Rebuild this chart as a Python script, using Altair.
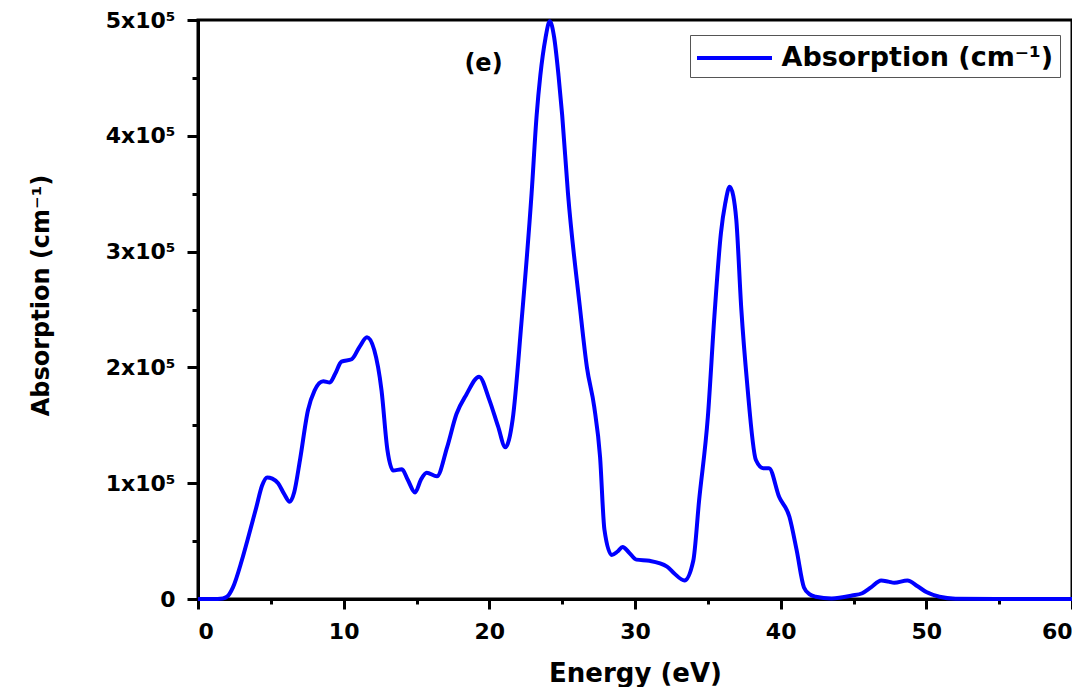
import altair as alt
import pandas as pd

# Photon energy (eV)
energy = [0, 1.0, 1.7, 2.0, 2.4, 3.0, 3.4, 4.0, 4.4, 4.75, 5.1, 5.5, 5.9, 6.3, 6.6,
          7.0, 7.55, 8.0, 8.6, 9.05, 9.4, 9.85, 10.55, 11.1, 11.6, 12.1, 12.6, 13.0,
          13.4, 14.0, 14.4, 14.9, 15.3, 15.7, 16.4, 17.1, 17.75, 18.4, 19.3, 20.0,
          20.6, 21.1, 21.6, 22.2, 22.9, 23.25, 23.5, 23.85, 24.15, 24.45, 24.75,
          25.0, 25.4, 26.2, 26.7, 27.2, 27.6, 27.9, 28.4, 28.8, 29.15, 29.6, 30.1,
          31.0, 32.2, 32.7, 33.4, 34.0, 34.4, 35.0, 35.45, 35.9, 36.2, 36.5, 36.75,
          36.95, 37.3, 37.7, 38.3, 38.8, 39.2, 39.9, 40.6, 41.1, 41.6, 42.0, 42.4,
          43.5, 44.9, 45.6, 46.2, 46.9, 47.4, 47.8, 48.7, 49.4, 50.0, 50.9, 52.0,
          55.0, 60.0]
# Absorption coefficient (cm^-1)
absorption = [0, 0, 500, 2000, 10000, 33000, 51000, 79000, 98000, 105000, 104000,
              100000, 91000, 84000, 92000, 120000, 163000, 180000, 188000, 187000,
              194000, 205000, 207000, 218000, 226000, 215000, 180000, 129000, 111000,
              112000, 103000, 92000, 103000, 109000, 106000, 131000, 160000, 176000,
              192000, 172000, 149000, 131000, 155000, 238000, 350000, 418000, 452000,
              484000, 499000, 485000, 452000, 418000, 350000, 254000, 200000, 166000,
              123000, 60000, 38000, 41000, 45000, 40000, 34000, 33000, 28000, 22000,
              16000, 33000, 85000, 157000, 244000, 316000, 342000, 356000, 348000,
              328000, 250000, 186000, 120000, 113000, 113000, 88000, 71000, 42000,
              10000, 4000, 2000, 500, 3000, 5000, 10000, 16000, 15000, 14000, 16000,
              11000, 6000, 2000, 300, 0, 0]

series_name = "Absorption (cm\u207b\u00b9)"

x_major = [0, 10, 20, 30, 40, 50, 60]
x_minor = [5, 15, 25, 35, 45, 55]
y_major = [0, 100000, 200000, 300000, 400000, 500000]
y_minor = [50000, 150000, 250000, 350000, 450000]

panel_label = ["(e)"]
panel_x = [19.6]
panel_y = [462000]

df = pd.DataFrame({"energy": energy, "absorption": absorption,
                   "series": [series_name] * len(energy)})
ann = pd.DataFrame({"x": panel_x, "y": panel_y, "label": panel_label})

FONT = "DejaVu Sans"
xscale = alt.Scale(domain=[0, 60], nice=False, zero=False)
yscale = alt.Scale(domain=[0, 500000], nice=False)

line = alt.Chart(df).mark_line(strokeWidth=4, interpolate="monotone").encode(
    x=alt.X("energy:Q", scale=xscale,
            axis=alt.Axis(values=x_major, orient="bottom", title="Energy (eV)",
                          tickSize=10, labelPadding=12, titlePadding=18,
                          labelFontSize=22, titleFontSize=26, grid=False)),
    y=alt.Y("absorption:Q", scale=yscale,
            axis=alt.Axis(values=y_major, orient="left", title=series_name,
                          labelExpr="datum.value == 0 ? '0' : format(datum.value/100000, 'd') + 'x10\u2075'",
                          tickSize=11, labelPadding=12, titlePadding=52, titleY=275,
                          labelFontSize=22, titleFontSize=24, grid=False)),
    color=alt.Color("series:N", scale=alt.Scale(range=["#0000ff"]),
                    legend=alt.Legend(title=None, orient="none", legendX=492, legendY=15,
                                      symbolType="M-2.5,0H2.5", symbolSize=900,
                                      symbolStrokeWidth=4, symbolOffset=21.5,
                                      labelFontSize=27, labelLimit=500,
                                      labelFont=FONT, labelFontWeight="bold",
                                      labelColor="black", labelOffset=30,
                                      strokeColor="#555555", padding=6,
                                      fillColor="white")),
)

minor = alt.Chart(df).mark_line(opacity=0).encode(
    x=alt.X("energy:Q", scale=xscale,
            axis=alt.Axis(values=x_minor, orient="bottom", title=None, labels=False,
                          domain=False, tickSize=5, grid=False)),
    y=alt.Y("absorption:Q", scale=yscale,
            axis=alt.Axis(values=y_minor, orient="left", title=None, labels=False,
                          domain=False, tickSize=6, grid=False)),
)

text = alt.Chart(ann).mark_text(font=FONT, fontSize=24, fontWeight="bold",
                                color="black").encode(
    x=alt.X("x:Q", scale=xscale, axis=None),
    y=alt.Y("y:Q", scale=yscale, axis=None),
    text="label:N",
)

chart = alt.layer(line, minor, text).resolve_axis(
    x="independent", y="independent"
).properties(
    width=874, height=579, autosize="none",
    padding={"left": 190, "top": 12, "right": 0, "bottom": 88},
).configure_view(
    stroke="black", strokeWidth=3
).configure_axis(
    domainColor="black", domainWidth=3, tickColor="black", tickWidth=3,
    labelFont=FONT, labelFontWeight="bold", labelColor="black",
    titleFont=FONT, titleFontWeight="bold", titleColor="black",
)

chart.save("out.html", embed_options={"renderer": "svg", "actions": False})
